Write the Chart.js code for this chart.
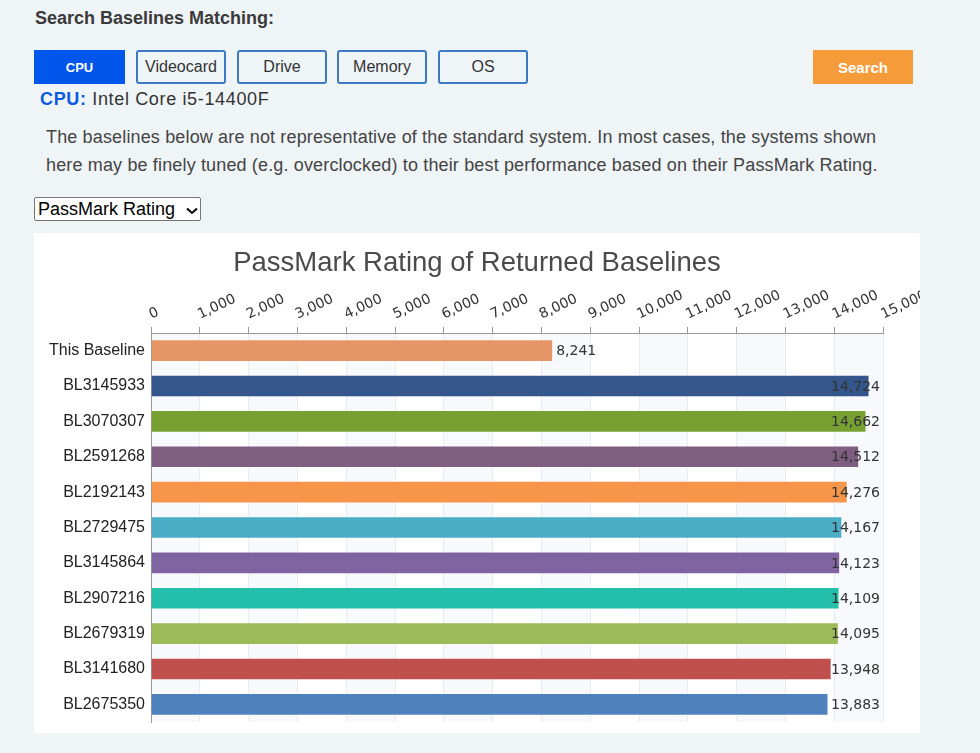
<!DOCTYPE html>
<html>
<head>
<meta charset="utf-8">
<script src="https://cdn.jsdelivr.net/npm/chart.js@4.4.1/dist/chart.umd.min.js"></script>
<style>
    body {
        margin: 0;
        background: #eff4f7;
        font-family: "Liberation Sans", Arial, sans-serif;
        color: #333;
        width: 980px;
        height: 753px;
        position: relative;
        overflow: hidden;
    }
    .heading {
        position: absolute; left: 35px; top: 8px;
        font-size: 18px; font-weight: bold; color: #3a3a3a;
    }
    .btn {
        position: absolute; top: 50px; height: 34px; width: 90px;
        box-sizing: border-box;
        border: 2px solid #3c7bc4; border-radius: 3px;
        background: transparent;
        font-size: 16px; color: #333;
        display: flex; align-items: center; justify-content: center;
    }
    .btn.active {
        background: #0156ec; border-color: #0156ec; color: #fff;
        font-weight: bold; font-size: 13px; border-radius: 0; width: 91px;
    }
    .btn.search {
        background: #f59b3a; border: none; border-radius: 0; color: #fff;
        font-weight: bold; font-size: 15px; width: 100px;
    }
    .cpu-line {
        position: absolute; left: 40px; top: 89px; font-size: 18px;
        letter-spacing: 0.65px; color: #333;
    }
    .cpu-line b { color: #0a5be0; }
    .note {
        position: absolute; left: 46px; top: 123px; width: 850px;
        font-size: 18px; letter-spacing: 0.15px; line-height: 28px; color: #444; margin: 0;
    }
    select {
        position: absolute; left: 34px; top: 197px; width: 167px; height: 24px;
        font-size: 18px; font-family: "Liberation Sans", Arial, sans-serif;
        -webkit-appearance: none; appearance: none;
        background: #fff url("data:image/svg+xml,%3Csvg xmlns='http://www.w3.org/2000/svg' width='12' height='8'%3E%3Cpath d='M1 1.5l5 4.5 5-4.5' fill='none' stroke='%23000' stroke-width='2'/%3E%3C/svg%3E") no-repeat 151px 9px;
        border: 1px solid #767676; border-radius: 2px; color: #000;
        padding: 0 0 0 3px;
    }
    .chart-box {
        position: absolute; left: 34px; top: 233px; width: 886px; height: 500px;
        background: #fff;
    }
</style>
</head>
<body>
<div class="heading">Search Baselines Matching:</div>
<div class="btn active" style="left:34px">CPU</div>
<div class="btn" style="left:136px">Videocard</div>
<div class="btn" style="left:237px">Drive</div>
<div class="btn" style="left:337px">Memory</div>
<div class="btn" style="left:438px">OS</div>
<div class="btn search" style="left:813px">Search</div>
<div class="cpu-line"><b>CPU:</b> Intel Core i5-14400F</div>
<p class="note">The baselines below are not representative of the standard system. In most cases, the systems shown here may be finely tuned (e.g. overclocked) to their best performance based on their PassMark Rating.</p>
<select><option>PassMark Rating</option></select>
<div class="chart-box"><canvas id="baselineChart" width="886" height="500"></canvas></div>

<script>
// Baseline data
const baselineNames = ['This Baseline', 'BL3145933', 'BL3070307', 'BL2591268', 'BL2192143', 'BL2729475',
    'BL3145864', 'BL2907216', 'BL2679319', 'BL3141680', 'BL2675350'];
const passmarkRatings = [8241, 14724, 14662, 14512, 14276, 14167, 14123, 14109, 14095, 13948, 13883];
const axisMax = 15000;
const axisStep = 1000;

const barColors = ['#e69566', '#34568b', '#77a033', '#7f5e82', '#f7964a', '#4bacc6',
    '#8064a2', '#23bfaa', '#9bbb59', '#c0504d', '#4f81bd'];

// light vertical bands behind every other interval
const bandPlugin = {
    id: 'bands',
    beforeDraw(chart) {
        const { ctx, chartArea, scales } = chart;
        ctx.save();
        ctx.fillStyle = '#f7f9fc';
        for (let v = 0; v < axisMax; v += axisStep * 2) {
            const x1 = scales.x.getPixelForValue(v);
            const x2 = scales.x.getPixelForValue(v + axisStep);
            ctx.fillRect(x1, chartArea.top, x2 - x1, chartArea.bottom - chartArea.top);
        }
        ctx.restore();
    }
};

// value labels at bar ends, kept inside the plot
const valueLabelPlugin = {
    id: 'valueLabels',
    afterDatasetsDraw(chart) {
        const { ctx, chartArea } = chart;
        const meta = chart.getDatasetMeta(0);
        ctx.save();
        ctx.font = '14px "DejaVu Sans"';
        ctx.fillStyle = '#333';
        ctx.textBaseline = 'middle';
        meta.data.forEach((bar, i) => {
            const text = passmarkRatings[i].toLocaleString('en-US');
            const w = ctx.measureText(text).width;
            const x = Math.min(bar.x + 3, chartArea.right - 3 - w);
            ctx.fillText(text, x, bar.y + 1);
        });
        ctx.restore();
    }
};

const ctx = document.getElementById('baselineChart').getContext('2d');
new Chart(ctx, {
    type: 'bar',
    data: {
        labels: baselineNames,
        datasets: [{
            data: passmarkRatings,
            backgroundColor: barColors,
            borderColor: 'rgba(255,255,255,0.35)',
            borderWidth: 1,
            categoryPercentage: 1,
            barPercentage: 0.64
        }]
    },
    options: {
        indexAxis: 'y',
        responsive: false,
        animation: false,
        layout: { padding: { left: 0, right: 0, top: 0, bottom: 11 } },
        plugins: {
            legend: { display: false },
            tooltip: { enabled: false },
            title: {
                display: true,
                text: 'PassMark Rating of Returned Baselines',
                color: '#4a4a4a',
                font: { family: '"Liberation Sans", Arial', size: 27.5, weight: 'normal' },
                padding: { top: 14, bottom: 0 }
            }
        },
        scales: {
            x: {
                position: 'top',
                min: 0,
                max: axisMax,
                ticks: {
                    stepSize: axisStep,
                    autoSkip: false,
                    minRotation: 25,
                    maxRotation: 25,
                    padding: 4,
                    labelOffset: 6,
                    color: '#333',
                    font: { family: '"DejaVu Sans"', size: 14 },
                    callback: value => value.toLocaleString('en-US')
                },
                grid: { color: '#e6ecf1', tickColor: '#999', tickLength: 6 },
                border: { color: '#999' },
                afterFit: scale => {
                    scale.height = 53;
                    scale.paddingLeft = 0;
                    scale.paddingRight = 37;
                }
            },
            y: {
                ticks: {
                    padding: 6,
                    color: '#222',
                    font: { family: '"Liberation Sans", Arial', size: 16 }
                },
                grid: { display: false, drawTicks: false },
                border: { color: '#999' },
                afterFit: scale => {
                    scale.width = 117;
                    scale.paddingTop = 0;
                    scale.paddingBottom = 0;
                }
            }
        }
    },
    plugins: [bandPlugin, valueLabelPlugin]
});
</script>
</body>
</html>
